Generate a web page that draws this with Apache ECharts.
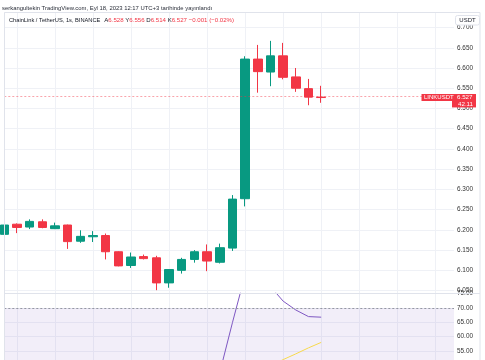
<!DOCTYPE html>
<html><head><meta charset="utf-8">
<script src="https://cdn.jsdelivr.net/npm/echarts@6/dist/echarts.min.js"></script>
<style>html,body{margin:0;padding:0;background:#fff}#c{width:485px;height:360px}</style>
</head><body><div id="c"></div>
<script>
// ---- data ----
const candleIndex = [0,1,2,3,4,5,6,7,8,9,10,11,12,13,14,15,16,17,18,19,20,21,22,23,24,25];
const opens  = [6.189,6.214,6.207,6.220,6.203,6.212,6.172,6.183,6.186,6.146,6.112,6.134,6.131,6.069,6.100,6.127,6.146,6.120,6.155,6.277,6.622,6.590,6.630,6.578,6.549,6.528];
const closes = [6.212,6.206,6.221,6.206,6.210,6.171,6.184,6.186,6.146,6.111,6.133,6.129,6.069,6.102,6.127,6.146,6.123,6.156,6.276,6.622,6.591,6.630,6.577,6.550,6.528,6.527];
const lows   = [6.187,6.192,6.202,6.204,6.202,6.153,6.168,6.170,6.127,6.110,6.106,6.127,6.051,6.057,6.092,6.119,6.098,6.117,6.148,6.258,6.539,6.555,6.572,6.541,6.508,6.514];
const highs  = [6.214,6.216,6.226,6.226,6.218,6.213,6.199,6.197,6.191,6.147,6.144,6.139,6.136,6.103,6.131,6.150,6.164,6.166,6.286,6.629,6.657,6.667,6.662,6.600,6.573,6.556];
const rsi    = [null,null,null,null,null,null,null,null,null,null,null,null,null,null,null,null,null,47.5,64.9,81.6,80.0,77.5,72.4,69.3,67.0,66.8];
const rsiMA  = [null,null,null,null,null,null,null,null,null,null,null,null,null,null,null,null,null,null,null,null,null,49.8,52.0,54.0,56.1,58.0];
const rsiUpper = 70;
const gridSlots = Array.from({length:37}, (_, i) => String(i));

const headerLine1 = 'serkangultekin TradingView.com, Eyl 18, 2023 12:17 UTC+3 tarihinde yayınlandı';
const symbolTitle = 'ChainLink / TetherUS, 1s, BINANCE';
const ohlcLetters = ['A','Y','D','K'];
const ohlcValues  = ['6.528','6.556','6.514','6.527'];
const changeText  = '−0.001 (−0.02%)';
const tickerName  = 'LINKUSDT';
const subLabel    = '42.11';
const currency    = 'USDT';

// ---- styles ----
const UP = '#089981', DOWN = '#F23645';
const FONT = '"Liberation Sans", Arial, sans-serif';
const GRIDC = '#EFF1F6';
const LABELC = '#333';

const candleData = candleIndex.map((x, i) => [x, opens[i], closes[i], lows[i], highs[i]]);
const rsiData = candleIndex.map((x, i) => [x, rsi[i]]).filter(d => d[1] != null);
const maData = candleIndex.map((x, i) => [x, rsiMA[i]]).filter(d => d[1] != null);
const lastClose = closes[closes.length - 1];

const chart = echarts.init(document.getElementById('c'));
const xMax = 35.48;
chart.setOption({
  animation: false,
  grid: [
    {left: 4.3, top: 12.3, right: 31, height: 281},
    {left: 4.3, top: 293.3, right: 31, bottom: 0},
    {left: 4.3, top: 12.3, width: 36 * 12.676, bottom: 0}
  ],
  xAxis: [
    {type: 'value', gridIndex: 0, min: 0, max: xMax, show: false},
    {type: 'value', gridIndex: 1, min: 0, max: xMax, show: false},
    {type: 'category', gridIndex: 2, boundaryGap: false, data: gridSlots,
     axisLine: {show: false}, axisTick: {show: false}, axisLabel: {show: false},
     splitLine: {show: true, interval: (i) => i % 3 === 1, lineStyle: {color: GRIDC, width: 1}}}
  ],
  yAxis: [
    {type: 'value', gridIndex: 0, position: 'right', min: 6.0433, max: 6.7376, splitNumber: 13, scale: true,
     axisLine: {show: false}, axisTick: {show: false},
     axisLabel: {color: LABELC, fontSize: 6.4, fontFamily: FONT, margin: 3, showMinLabel: false, showMaxLabel: false,
                 formatter: v => v.toFixed(3)},
     splitLine: {lineStyle: {color: GRIDC, width: 1}}},
    {type: 'value', gridIndex: 1, position: 'right', min: 51.86, max: 75.13, splitNumber: 4, scale: true,
     axisLine: {show: false}, axisTick: {show: false},
     axisLabel: {color: LABELC, fontSize: 6.4, fontFamily: FONT, margin: 3, showMinLabel: false, showMaxLabel: false,
                 formatter: v => v.toFixed(2)},
     splitLine: {lineStyle: {color: GRIDC, width: 1}}},
    {type: 'value', gridIndex: 2, min: 0, max: 1, show: false}
  ],
  series: [
    {type: 'candlestick', xAxisIndex: 0, yAxisIndex: 0, data: candleData, barWidth: 9,
     itemStyle: {color: UP, color0: DOWN, borderColor: UP, borderColor0: DOWN, borderWidth: 1},
     markLine: {silent: true, symbol: ['none', 'none'], label: {show: false},
                lineStyle: {color: 'rgba(242,54,69,0.45)', type: [2, 2], width: 1},
                data: [{yAxis: lastClose}]}},
    {type: 'line', xAxisIndex: 1, yAxisIndex: 1, data: rsiData, showSymbol: false,
     lineStyle: {color: '#7E57C2', width: 1}, itemStyle: {color: '#7E57C2'},
     markArea: {silent: true, itemStyle: {color: 'rgba(126,87,194,0.1)'}, data: [[{yAxis: rsiUpper}, {yAxis: 30}]]},
     markLine: {silent: true, symbol: ['none', 'none'], label: {show: false},
                lineStyle: {color: '#9598A1', type: [2, 2], width: 1}, data: [{yAxis: rsiUpper}]}},
    {type: 'line', xAxisIndex: 1, yAxisIndex: 1, data: maData, showSymbol: false,
     lineStyle: {color: '#F7D94C', width: 1}, itemStyle: {color: '#F7D94C'}}
  ]
});

const py = chart.convertToPixel({yAxisIndex: 0}, lastClose);
const ohlcRich = ohlcLetters.map((l, i) => '{d|' + l + '}{r|' + ohlcValues[i] + '}').join('{d| }') + '{d| }{r|' + changeText + '}';
const gfx = [
  {type: 'rect', z: 100, shape: {x: 4.5, y: 12.5, width: 475.5, height: 360}, style: {fill: 'none', stroke: '#E0E3EB', lineWidth: 1}},
  {type: 'line', z: 100, shape: {x1: 4.5, y1: 293.5, x2: 480, y2: 293.5}, style: {stroke: '#E0E3EB', lineWidth: 1}},
  {type: 'text', z: 100, x: 2, y: 8, style: {text: headerLine1, font: '5.9px ' + FONT, fill: '#2a2e39', verticalAlign: 'middle'}},
  {type: 'text', z: 100, x: 9, y: 20, style: {text: symbolTitle, font: '5.7px ' + FONT, fill: '#131722', verticalAlign: 'middle'}},
  {type: 'text', z: 100, x: 104.3, y: 20, style: {text: ohlcRich, verticalAlign: 'middle',
     rich: {d: {fill: '#131722', font: '6.1px ' + FONT}, r: {fill: DOWN, font: '6.1px ' + FONT}}}},
  {type: 'rect', z: 100, shape: {x: 455.5, y: 15.5, width: 24, height: 9.5, r: 2}, style: {fill: '#fff', stroke: '#E0E3EB', lineWidth: 1}},
  {type: 'text', z: 101, x: 467.5, y: 20.4, style: {text: currency, font: '6px ' + FONT, fill: '#131722', align: 'center', verticalAlign: 'middle'}},
  {type: 'rect', z: 100, shape: {x: 421.5, y: py - 3.5, width: 54.5, height: 7}, style: {fill: DOWN}},
  {type: 'rect', z: 100, shape: {x: 452, y: py + 3.3, width: 24, height: 6.6}, style: {fill: DOWN}},
  {type: 'text', z: 101, x: 424, y: py, style: {text: tickerName, font: '6px ' + FONT, fill: '#fff', verticalAlign: 'middle'}},
  {type: 'text', z: 101, x: 457, y: py, style: {text: lastClose.toFixed(3), font: '6.2px ' + FONT, fill: '#fff', verticalAlign: 'middle'}},
  {type: 'text', z: 101, x: 458, y: py + 6.6, style: {text: subLabel, font: '6.2px ' + FONT, fill: '#fff', verticalAlign: 'middle'}}
];
chart.setOption({graphic: gfx});
</script></body></html>
